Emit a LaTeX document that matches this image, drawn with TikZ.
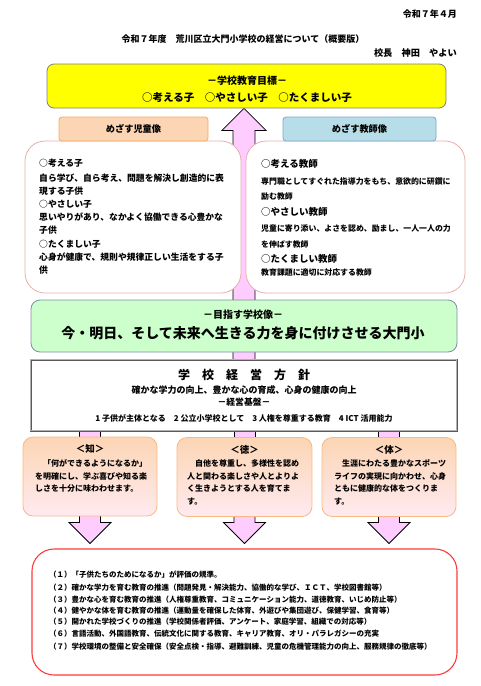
\documentclass[tikz,border=0pt]{standalone}
\usepackage{fontspec}
\setmainfont{Noto Sans CJK JP}
\usetikzlibrary{calc,backgrounds}
\definecolor{dmYellow}{HTML}{FFFF00}
\definecolor{dmFrame}{HTML}{7F7F7F}
\definecolor{dmPeach}{HTML}{FCD5B4}
\definecolor{dmOrange}{HTML}{F6A864}
\definecolor{dmSky}{HTML}{B7DEE8}
\definecolor{dmBlue}{HTML}{7AA6D6}
\definecolor{dmRose}{HTML}{E6B0AA}
\definecolor{dmMint}{HTML}{CCFFCC}
\definecolor{dmSlate}{HTML}{7F8FA6}
\definecolor{dmPink}{HTML}{FFCCFF}
\definecolor{dmBlush}{HTML}{FFEAF0}
\definecolor{dmRed}{HTML}{FF3B3B}
\newcommand{\jsize}[1]{\fontsize{#1}{#1}\selectfont\bfseries}

\begin{document}
\begin{tikzpicture}[x=1pt,y=-1pt,font=\jsize{8},
        txt/.style={inner sep=0pt,anchor=west},
        lbl/.style={inner sep=0pt},
        goalbox/.style={draw=dmFrame,fill=dmYellow,line width=0.8pt,rounded corners=7pt},
        tabkid/.style={draw=dmOrange,fill=dmPeach,line width=0.8pt,rounded corners=3pt},
        tabteach/.style={draw=dmBlue,fill=dmSky,line width=0.8pt,rounded corners=3pt},
        imagebox/.style={draw=dmRose,fill=white,line width=0.8pt,rounded corners=20pt},
        visionbox/.style={draw=dmSlate,fill=dmMint,line width=0.8pt,rounded corners=9pt},
        policybox/.style={draw=gray!70!black,double=gray!60,double distance=1pt,line width=0.5pt,fill=white},
        pillarbox/.style={draw=dmOrange!80,line width=0.8pt,rounded corners=10pt,
                    top color=dmPeach,middle color=dmPeach,bottom color=dmBlush},
        actionbox/.style={draw=dmRed,fill=white,line width=1.1pt,rounded corners=22pt},
        blockarrow/.style={draw=black,fill=dmPink,line width=0.8pt,line join=miter}]
        \useasboundingbox (0,0) rectangle (480,686);
        \node[lbl,anchor=east,font=\jsize{9}] (date) at (457,14) {令和７年４月};
        \node[lbl,font=\jsize{9}] (title) at (243,39) {令和７年度　荒川区立大門小学校の経営について（概要版）};
        \node[lbl,anchor=east,font=\jsize{9.2}] (principal) at (457,53) {校長　神田　やよい};

        \node[goalbox,minimum width=399pt,minimum height=44pt] (goal) at (246.5,86) {};
        \node[lbl,font=\jsize{10}] (goalhead) at (247,81) {－学校教育目標－};
        \node[lbl,font=\jsize{10.5}] (goaltext) at (247,98) {○考える子　○やさしい子　○たくましい子};

        \node[imagebox,minimum width=216pt,minimum height=152pt] (kidbox) at (133,217) {};
        \node[imagebox,minimum width=219pt,minimum height=152pt] (teachbox) at (355.5,217) {};
        \node[tabkid,minimum width=149pt,minimum height=24pt,font=\jsize{9.2}] (kidtab) at (133.5,129) {めざす児童像};
        \node[tabteach,minimum width=153pt,minimum height=24pt,font=\jsize{9.2}] (teachtab) at (359.5,129) {めざす教師像};
        \foreach \y/\t [count=\i] in {163/○考える子,178/自ら学び、自ら考え、問題を解決し創造的に表,
                191/現する子供,204/○やさしい子,217/思いやりがあり、なかよく協働できる心豊かな,
                230/子供,244/○たくましい子,257/心身が健康で、規則や規律正しい生活をする子,270/供}
            \node[txt,font=\jsize{8.8}] (kid\i) at (39,\y) {\t};
        \foreach \y/\t [count=\i] in {164/{\jsize{9.5}○考える教師},182/専門職としてすぐれた指導力をもち、意欲的に研鑽に,
                197/励む教師,212/{\jsize{9.5}○やさしい教師},229/児童に寄り添い、よさを認め、励まし、一人一人の力,
                245/を伸ばす教師,259/{\jsize{9.5}○たくましい教師},273/教育課題に適切に対応する教師}
            \node[txt,font=\jsize{7.9}] (teach\i) at (261,\y) {\t};

        \node[visionbox,minimum width=426pt,minimum height=52pt] (vision) at (244,326) {};
        \node[lbl,font=\jsize{10}] (visionhead) at (243,315) {－目指す学校像－};
        \node[lbl,font=\jsize{14}] (visiontext) at (243,333) {今・明日、そして未来へ生きる力を身に付けさせる大門小};

        \node[policybox,minimum width=426pt,minimum height=71pt] (policy) at (243.5,395) {};
        \node[lbl,font=\jsize{12}] (policyhead) at (244,375) {学　校　経　営　方　針};
        \node[lbl,font=\jsize{9}] (policytext) at (244,390) {確かな学力の向上、豊かな心の育成、心身の健康の向上};
        \node[lbl,font=\jsize{8.8}] (basehead) at (244,402) {－経営基盤－};
        \node[lbl,font=\jsize{8}] (basetext) at (244,418) {1 子供が主体となる　2 公立小学校として　3 人権を尊重する教育　4 ICT 活用能力};

        \node[pillarbox,minimum width=134pt,minimum height=79pt] (pillarL) at (90,476.5) {};
        \node[pillarbox,minimum width=135pt,minimum height=79pt] (pillarM) at (244.5,477) {};
        \node[pillarbox,minimum width=134pt,minimum height=79pt] (pillarR) at (389,477) {};
        \node[lbl,font=\jsize{9.5}] (chi) at (90,449) {＜知＞};
        \node[lbl,font=\jsize{9.5}] (toku) at (244.5,450) {＜徳＞};
        \node[lbl,font=\jsize{9.5}] (tai) at (389,450) {＜体＞};
        \foreach \y/\t [count=\i] in {463/　「何ができるようになるか」,476/を明確にし、学ぶ喜びや知る楽,488/しさを十分に味わわせます。}
            \node[txt] (chi\i) at (35,\y) {\t};
        \foreach \y/\t [count=\i] in {463/　自他を尊重し、多様性を認め,476/人と関わる楽しさや人とよりよ,488/く生きようとする人を育てま,502/す。}
            \node[txt] (toku\i) at (187,\y) {\t};
        \foreach \y/\t [count=\i] in {463/　生涯にわたる豊かなスポーツ,476/ライフの実現に向かわせ、心身,488/ともに健康的な体をつくりま,502/す。}
            \node[txt] (tai\i) at (334,\y) {\t};

        \node[actionbox,minimum width=425pt,minimum height=126pt] (actions) at (244.5,612) {};
        \foreach \y/\t [count=\i] in {575/（１）「子供たちのためになるか」が評価の規準。,
                588/（２）確かな学力を育む教育の推進（問題発見・解決能力、協働的な学び、ＩＣＴ、学校図書館等）,
                600/（３）豊かな心を育む教育の推進（人権尊重教育、コミュニケーション能力、道徳教育、いじめ防止等）,
                611/（４）健やかな体を育む教育の推進（運動量を確保した体育、外遊びや集団遊び、保健学習、食育等）,
                622/（５）開かれた学校づくりの推進（学校関係者評価、アンケート、家庭学習、組織での対応等）,
                634/（６）言語活動、外国語教育、伝統文化に関する教育、キャリア教育、オリ・パラレガシーの充実,
                647/（７）学校環境の整備と安全確保（安全点検・指導、避難訓練、児童の危機管理能力の向上、服務規律の徹底等）}
            \node[txt,font=\jsize{7.5}] (act\i) at (49,\y) {\t};

        \begin{scope}[on background layer]
        \coordinate (uptip) at ($(goal.south)+(-2.5,0)$);
        \draw[blockarrow] (uptip) -- ++(22,22) -- ++(-11,0) -- ($(uptip |- policy.north)+(11,5)$)
            -- ++(-22,0) -- ($(uptip)+(-11,22)$) -- ++(-11,0) -- cycle;
        \foreach \p in {pillarL,pillarM,pillarR} {
            \draw[blockarrow] ($(policy.south -| \p)+(-10.5,-3)$) rectangle ($(\p.north)+(10.5,3)$);
            \draw[blockarrow] ($(\p.south)+(-10.5,-3)$) -- ($(actions.north -| \p)+(-10.5,-26)$) -- ++(-10.5,0)
                -- ($(actions.north -| \p)+(0,-5)$) -- ++(21,-21) -- ++(-10.5,0) -- ($(\p.south)+(10.5,-3)$) -- cycle;
        }
        \end{scope}
      \end{tikzpicture}
\end{document}
